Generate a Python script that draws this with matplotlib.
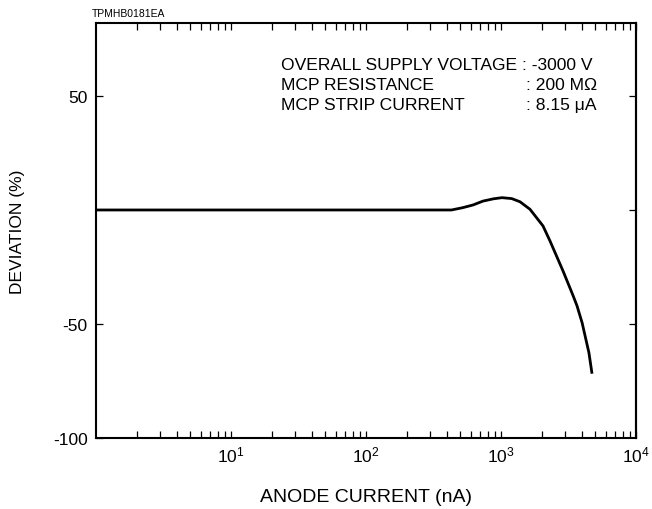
import matplotlib
matplotlib.use("Agg")
import matplotlib.pyplot as plt
from matplotlib.ticker import LogLocator, NullFormatter

plt.rcParams['font.family'] = ['Liberation Sans', 'DejaVu Sans']
plt.rcParams['mathtext.fontset'] = 'custom'
plt.rcParams['mathtext.rm'] = 'Liberation Sans'
plt.rcParams['mathtext.it'] = 'Liberation Sans:italic'

# Data
anode_current_nA = [1, 10, 100, 430, 520, 621, 736, 880, 1017, 1200, 1383, 1640, 2047, 2307,
                    2878, 3400, 3655, 3990, 4480, 4723]
deviation_pct = [0, 0, 0, 0, 1.0, 2.2, 3.9, 4.9, 5.4, 5.0, 3.6, 0.3, -7.0, -13.6,
                 -26.7, -37.2, -42.0, -49.5, -62.6, -71.8]

y_ticks_left = [-100, -50, 50]
y_ticks_right = [-50, 0, 50]
x_ticks = [10, 100, 1000, 10000]
x_tick_labels = [r'$10^{1}$', r'$10^{2}$', r'$10^{3}$', r'$10^{4}$']

W, H = 652, 510
fig = plt.figure(figsize=(W / 100, H / 100), dpi=100)
ax = fig.add_axes([96 / W, 1 - 439 / H, (636 - 96) / W, (439 - 24) / H])

ax.plot(anode_current_nA, deviation_pct, color='black', lw=2.0,
        solid_joinstyle='round', solid_capstyle='butt')

ax.set_xscale('log')
ax.set_xlim(1, 10000)
ax.set_ylim(-100, 82)

ax.set_xticks(x_ticks)
ax.set_xticklabels(x_tick_labels)
ax.xaxis.set_minor_locator(LogLocator(base=10, subs=range(2, 10)))
ax.xaxis.set_minor_formatter(NullFormatter())
ax.set_yticks(y_ticks_left)
ax.set_yticklabels([str(v) for v in y_ticks_left])

for s in ax.spines.values():
    s.set_linewidth(1.5)

ax.tick_params(axis='x', which='both', direction='in', top=True, bottom=True,
               length=5, width=0.9, labelsize=12.5, pad=5)
ax.tick_params(axis='y', which='both', direction='in', left=True, right=False,
               length=5, width=0.9, labelsize=12.5, pad=6)

sec = ax.secondary_yaxis('right')
sec.set_yticks(y_ticks_right)
sec.tick_params(direction='in', length=5, width=0.9, labelright=False)
sec.spines['right'].set_linewidth(1.5)

ax.set_xlabel('ANODE CURRENT (nA)', fontsize=14, labelpad=17)
ax.set_ylabel('DEVIATION (%)', fontsize=12.5, labelpad=20)

def ftext(x, y, s, **kw):
    fig.text(x / W, 1 - y / H, s, va='center', ha='left', **kw)

ftext(92, 14, 'TPMHB0181EA', fontsize=7.5)
ftext(281, 65.5, 'OVERALL SUPPLY VOLTAGE : -3000 V', fontsize=12.6)
ftext(281, 85.5, 'MCP RESISTANCE', fontsize=12.6)
ftext(526, 85.5, ': 200 M\u03a9', fontsize=12.6)
ftext(281, 105.5, 'MCP STRIP CURRENT', fontsize=12.6)
ftext(526, 105.5, ': 8.15 \u03bcA', fontsize=12.6)

fig.savefig('out.png', dpi=100)
